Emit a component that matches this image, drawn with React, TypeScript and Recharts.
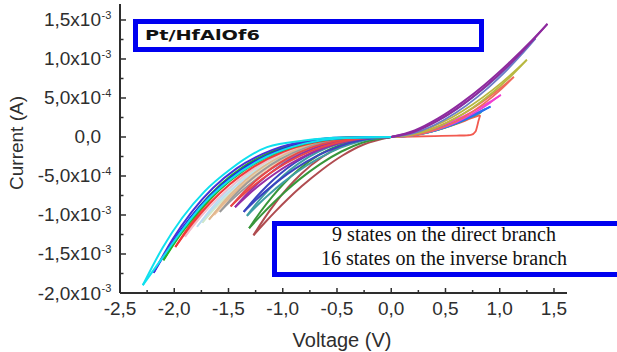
import React from 'react';
import { LineChart, Line, XAxis, YAxis } from 'recharts';

// Current values are in mA (units of 1e-3 A); voltage in V.
// Negative ("inverse") branch: 16 states, each as two arms [V, I(mA)] from the tip to the origin.
const N1_LOW = [[-2.29,-1.90],[-2.10,-1.53],[-1.92,-1.18],[-1.718,-0.84],[-1.489,-0.55],[-1.145,-0.25],[-0.802,-0.085],[-0.458,-0.015],[0,0]];
const N1_UP = [[-2.29,-1.90],[-2.107,-1.419],[-1.924,-1.032],[-1.718,-0.694],[-1.489,-0.420],[-1.145,-0.130],[-0.802,-0.045],[-0.458,-0.007],[0,0]];
const N2_LOW = [[-2.19,-1.74],[-2.015,-1.343],[-1.84,-1.013],[-1.643,-0.713],[-1.424,-0.458],[-1.095,-0.204],[-0.767,-0.068],[-0.438,-0.012],[0,0]];
const N2_UP = [[-2.19,-1.74],[-2.015,-1.310],[-1.84,-0.962],[-1.643,-0.654],[-1.424,-0.402],[-1.095,-0.165],[-0.767,-0.049],[-0.438,-0.007],[0,0]];
const N3_LOW = [[-2.10,-1.58],[-1.932,-1.231],[-1.764,-0.937],[-1.575,-0.667],[-1.365,-0.435],[-1.05,-0.198],[-0.735,-0.068],[-0.42,-0.013],[0,0]];
const N3_UP = [[-2.10,-1.58],[-1.932,-1.199],[-1.764,-0.888],[-1.575,-0.611],[-1.365,-0.381],[-1.05,-0.161],[-0.735,-0.049],[-0.42,-0.008],[0,0]];
const N4_LOW = [[-1.99,-1.41],[-1.831,-1.107],[-1.672,-0.850],[-1.493,-0.612],[-1.294,-0.405],[-0.995,-0.189],[-0.697,-0.068],[-0.398,-0.013],[0,0]];
const N4_UP = [[-1.99,-1.41],[-1.831,-1.080],[-1.672,-0.807],[-1.493,-0.561],[-1.294,-0.355],[-0.995,-0.154],[-0.697,-0.049],[-0.398,-0.008],[0,0]];
const N5_LOW = [[-1.90,-1.28],[-1.748,-1.014],[-1.596,-0.786],[-1.425,-0.572],[-1.235,-0.383],[-0.95,-0.184],[-0.665,-0.068],[-0.38,-0.014],[0,0]];
const N5_UP = [[-1.90,-1.28],[-1.748,-0.988],[-1.596,-0.745],[-1.425,-0.525],[-1.235,-0.337],[-0.95,-0.150],[-0.665,-0.050],[-0.38,-0.009],[0,0]];
const N6_LOW = [[-1.79,-1.15],[-1.647,-0.918],[-1.504,-0.718],[-1.343,-0.529],[-1.164,-0.359],[-0.895,-0.177],[-0.627,-0.068],[-0.358,-0.015],[0,0]];
const N6_UP = [[-1.79,-1.15],[-1.647,-0.896],[-1.504,-0.682],[-1.343,-0.485],[-1.164,-0.316],[-0.895,-0.144],[-0.627,-0.049],[-0.358,-0.009],[0,0]];
const N7_LOW = [[-1.74,-1.10],[-1.601,-0.882],[-1.462,-0.693],[-1.305,-0.513],[-1.131,-0.351],[-0.87,-0.175],[-0.609,-0.068],[-0.348,-0.015],[0,0]];
const N7_UP = [[-1.74,-1.10],[-1.601,-0.860],[-1.462,-0.658],[-1.305,-0.471],[-1.131,-0.309],[-0.87,-0.142],[-0.609,-0.050],[-0.348,-0.010],[0,0]];
const N8_LOW = [[-1.68,-1.06],[-1.546,-0.853],[-1.411,-0.674],[-1.26,-0.501],[-1.092,-0.346],[-0.84,-0.175],[-0.588,-0.069],[-0.336,-0.016],[0,0]];
const N8_UP = [[-1.68,-1.06],[-1.546,-0.832],[-1.411,-0.639],[-1.26,-0.460],[-1.092,-0.304],[-0.84,-0.142],[-0.588,-0.051],[-0.336,-0.010],[0,0]];
const N9_LOW = [[-1.63,-1.00],[-1.50,-0.812],[-1.369,-0.647],[-1.223,-0.487],[-1.06,-0.341],[-0.815,-0.177],[-0.571,-0.072],[-0.326,-0.018],[0,0]];
const N9_UP = [[-1.63,-1.00],[-1.50,-0.788],[-1.369,-0.608],[-1.223,-0.440],[-1.06,-0.293],[-0.815,-0.139],[-0.571,-0.050],[-0.326,-0.010],[0,0]];
const N10_LOW = [[-1.58,-0.96],[-1.454,-0.786],[-1.327,-0.632],[-1.185,-0.481],[-1.027,-0.342],[-0.79,-0.181],[-0.553,-0.077],[-0.316,-0.020],[0,0]];
const N10_UP = [[-1.58,-0.96],[-1.454,-0.760],[-1.327,-0.589],[-1.185,-0.429],[-1.027,-0.287],[-0.79,-0.138],[-0.553,-0.051],[-0.316,-0.011],[0,0]];
const N11_LOW = [[-1.48,-0.89],[-1.362,-0.734],[-1.243,-0.596],[-1.11,-0.459],[-0.962,-0.330],[-0.74,-0.181],[-0.518,-0.079],[-0.296,-0.022],[0,0]];
const N11_UP = [[-1.48,-0.89],[-1.362,-0.710],[-1.243,-0.555],[-1.11,-0.409],[-0.962,-0.278],[-0.74,-0.137],[-0.518,-0.053],[-0.296,-0.012],[0,0]];
const N12_LOW = [[-1.44,-0.90],[-1.325,-0.749],[-1.21,-0.613],[-1.08,-0.478],[-0.936,-0.349],[-0.72,-0.196],[-0.504,-0.089],[-0.288,-0.026],[0,0]];
const N12_UP = [[-1.44,-0.90],[-1.325,-0.725],[-1.21,-0.572],[-1.08,-0.426],[-0.936,-0.293],[-0.72,-0.149],[-0.504,-0.059],[-0.288,-0.014],[0,0]];
const N13_LOW = [[-1.36,-0.96],[-1.251,-0.812],[-1.142,-0.678],[-1.02,-0.540],[-0.884,-0.406],[-0.68,-0.240],[-0.476,-0.118],[-0.272,-0.038],[0,0]];
const N13_UP = [[-1.36,-0.96],[-1.251,-0.780],[-1.142,-0.621],[-1.02,-0.468],[-0.884,-0.327],[-0.68,-0.170],[-0.476,-0.069],[-0.272,-0.017],[0,0]];
const N14_LOW = [[-1.33,-1.01],[-1.224,-0.862],[-1.117,-0.725],[-0.998,-0.585],[-0.865,-0.445],[-0.665,-0.271],[-0.466,-0.137],[-0.266,-0.047],[0,0]];
const N14_UP = [[-1.33,-1.01],[-1.224,-0.823],[-1.117,-0.659],[-0.998,-0.499],[-0.865,-0.351],[-0.665,-0.185],[-0.466,-0.077],[-0.266,-0.019],[0,0]];
const N15_LOW = [[-1.31,-1.17],[-1.205,-1.011],[-1.10,-0.862],[-0.983,-0.708],[-0.852,-0.550],[-0.655,-0.347],[-0.459,-0.186],[-0.262,-0.070],[0,0]];
const N15_UP = [[-1.31,-1.17],[-1.205,-0.958],[-1.10,-0.770],[-0.983,-0.586],[-0.852,-0.417],[-0.655,-0.221],[-0.459,-0.094],[-0.262,-0.025],[0,0]];
const N16_LOW = [[-1.27,-1.26],[-1.168,-1.103],[-1.067,-0.954],[-0.953,-0.795],[-0.826,-0.633],[-0.635,-0.416],[-0.445,-0.234],[-0.254,-0.096],[0,0]];
const N16_UP = [[-1.27,-1.26],[-1.168,-1.040],[-1.067,-0.844],[-0.953,-0.650],[-0.826,-0.467],[-0.635,-0.256],[-0.445,-0.112],[-0.254,-0.032],[0,0]];

// Positive ("direct") branch: 9 states, from the origin to the tip.
const P1_UP = [[0,0],[0.216,0.084],[0.432,0.238],[0.648,0.438],[0.864,0.674],[1.08,0.943],[1.296,1.238],[1.44,1.45]];
const P1_LOW = [[0,0],[0.216,0.070],[0.432,0.212],[0.648,0.405],[0.864,0.641],[1.08,0.915],[1.296,1.225],[1.44,1.45]];
const P2_UP = [[0,0],[0.20,0.061],[0.399,0.185],[0.599,0.353],[0.798,0.559],[0.998,0.798],[1.197,1.069],[1.33,1.265]];
const P2_LOW = [[0,0],[0.20,0.046],[0.399,0.154],[0.599,0.313],[0.798,0.518],[0.998,0.765],[1.197,1.052],[1.33,1.265]];
const P3_UP = [[0,0],[0.1875,0.040],[0.375,0.128],[0.5625,0.254],[0.75,0.416],[0.9375,0.607],[1.125,0.828],[1.25,0.99]];
const P3_LOW = [[0,0],[0.1875,0.027],[0.375,0.100],[0.5625,0.217],[0.75,0.375],[0.9375,0.573],[1.125,0.810],[1.25,0.99]];
const P4_UP = [[0,0],[0.1695,0.025],[0.339,0.089],[0.5085,0.183],[0.678,0.307],[0.8475,0.459],[1.017,0.637],[1.13,0.77]];
const P4_LOW = [[0,0],[0.1695,0.015],[0.339,0.062],[0.5085,0.144],[0.678,0.263],[0.8475,0.421],[1.017,0.617],[1.13,0.77]];
const P5_UP = [[0,0],[0.1515,0.022],[0.303,0.070],[0.4545,0.139],[0.606,0.227],[0.7575,0.331],[0.909,0.451],[1.01,0.54]];
const P5_LOW = [[0,0],[0.1515,0.012],[0.303,0.049],[0.4545,0.109],[0.606,0.194],[0.7575,0.304],[0.909,0.437],[1.01,0.54]];
const P6_UP = [[0,0],[0.137,0.019],[0.2745,0.057],[0.412,0.109],[0.549,0.172],[0.686,0.246],[0.8235,0.330],[0.915,0.39]];
const P6_LOW = [[0,0],[0.137,0.011],[0.2745,0.039],[0.412,0.085],[0.549,0.148],[0.686,0.226],[0.8235,0.319],[0.915,0.39]];
const P7_UP = [[0,0],[0.1305,0.017],[0.261,0.053],[0.3915,0.100],[0.522,0.159],[0.6525,0.227],[0.783,0.304],[0.87,0.36]];
const P7_LOW = [[0,0],[0.1305,0.010],[0.261,0.036],[0.3915,0.079],[0.522,0.136],[0.6525,0.208],[0.783,0.294],[0.87,0.36]];
const P8_UP = [[0,0],[0.1245,0.015],[0.249,0.047],[0.3735,0.089],[0.498,0.141],[0.6225,0.202],[0.747,0.270],[0.83,0.32]];
const P8_LOW = [[0,0],[0.1245,0.009],[0.249,0.032],[0.3735,0.070],[0.498,0.121],[0.6225,0.185],[0.747,0.262],[0.83,0.32]];
const P9_FWD = [[0,0],[0.2,0.006],[0.4,0.012],[0.6,0.018],[0.70,0.022],[0.735,0.026],[0.777,0.07],[0.807,0.22],[0.82,0.28]];
const P9_RET = [[0,0],[0.123,0.010],[0.246,0.033],[0.369,0.069],[0.492,0.116],[0.615,0.173],[0.738,0.240],[0.82,0.28]];

// Axis ticks and labels
const X_TICKS = [-2.5,-2.25,-2,-1.75,-1.5,-1.25,-1,-0.75,-0.5,-0.25,0,0.25,0.5,0.75,1,1.25,1.5];
const X_MAJOR = [-2.5,-2,-1.5,-1,-0.5,0,0.5,1,1.5];
const X_LABELS = ['-2,5','-2,0','-1,5','-1,0','-0,5','0,0','0,5','1,0','1,5'];
const Y_TICKS = [-2,-1.75,-1.5,-1.25,-1,-0.75,-0.5,-0.25,0,0.25,0.5,0.75,1,1.25,1.5];
const Y_MAJOR = [1.5,1,0.5,0,-0.5,-1,-1.5,-2];
const Y_MANTISSA = ['1,5x10','1,0x10','5,0x10','0,0','-5,0x10','-1,0x10','-1,5x10','-2,0x10'];
const Y_EXPONENT = ['-3','-3','-4','','-4','-3','-3','-3'];

// Series table: [data, colour, width]; drawn in this order
const SERIES: [number[][], string, number][] = [
  [N9_LOW,'#f7d2b4',1.6],[N9_UP,'#f7d2b4',1.6],
  [N7_LOW,'#cfe8c8',1.6],[N7_UP,'#cfe8c8',1.6],
  [N6_LOW,'#b9dcf2',1.6],[N6_UP,'#b9dcf2',1.6],
  [N5_LOW,'#f4bccb',1.6],[N5_UP,'#f4bccb',1.6],
  [N8_LOW,'#e2b88e',1.8],[N8_UP,'#e2b88e',1.8],
  [N10_LOW,'#9a9a9a',1.8],[N10_UP,'#9a9a9a',1.8],
  [N16_LOW,'#b04c50',2],[N16_UP,'#b04c50',2],
  [N15_LOW,'#38963a',2],[N15_UP,'#38963a',2],
  [N14_LOW,'#3f9ea4',2],[N14_UP,'#3f9ea4',2],
  [N13_LOW,'#3a44c0',2],[N13_UP,'#3a44c0',2],
  [N12_LOW,'#962ea6',2],[N12_UP,'#962ea6',2],
  [N11_LOW,'#e84848',2],[N11_UP,'#e84848',2],
  [N4_LOW,'#f03a3a',2],[N4_UP,'#f03a3a',2],
  [N3_LOW,'#24b424',2],[N3_UP,'#24b424',2],
  [N2_LOW,'#2222e6',2],[N2_UP,'#4a30d8',2],
  [N1_LOW,'#10e0ee',2],[N1_UP,'#10e0ee',2],
  [P9_FWD,'#f25a50',1.8],[P9_RET,'#f25a50',1.8],
  [P8_LOW,'#40c040',1.8],[P8_UP,'#40c040',1.8],
  [P7_LOW,'#20d0e0',1.8],[P7_UP,'#20d0e0',1.8],
  [P6_LOW,'#2a70f0',1.8],[P6_UP,'#2a70f0',1.8],
  [P5_LOW,'#f040d0',1.8],[P5_UP,'#f040d0',1.8],
  [P4_LOW,'#f06a5a',1.8],[P4_UP,'#f06a5a',1.8],
  [P3_LOW,'#b8b840',1.8],[P3_UP,'#b8b840',1.8],
  [P2_LOW,'#6a7cc8',1.8],[P2_UP,'#6a7cc8',1.8],
  [P1_LOW,'#8e2a9e',2],[P1_UP,'#8e2a9e',2],
];

const SANS = "'Liberation Sans', Arial, sans-serif";
const INK = '#2e2e2e';

const idxOf = (arr: number[], v: number) => arr.findIndex((m) => Math.abs(m - v) < 1e-6);

const BottomTick = (p: any) => {
  const i = idxOf(X_MAJOR, p.payload.value);
  const major = i >= 0;
  return (
    <g>
      <line x1={p.x} x2={p.x} y1={p.y} y2={p.y - (major ? 5 : 3)} stroke={INK} strokeWidth={1.5} />
      {major && (
        <text x={p.x} y={p.y + 22} textAnchor="middle" fontSize={19} fontFamily={SANS} fill={INK}>{X_LABELS[i]}</text>
      )}
    </g>
  );
};

const TopTick = (p: any) => {
  const major = idxOf(X_MAJOR, p.payload.value) >= 0;
  return <line x1={p.x} x2={p.x} y1={p.y} y2={p.y + (major ? 5 : 3)} stroke={INK} strokeWidth={1.5} />;
};

const LeftTick = (p: any) => {
  const i = idxOf(Y_MAJOR, p.payload.value);
  const major = i >= 0;
  return (
    <g>
      <line x1={p.x} x2={p.x + (major ? 6 : 3.5)} y1={p.y} y2={p.y} stroke={INK} strokeWidth={1.5} />
      {major && (
        <text x={p.x - 19} y={p.y + 6.5} textAnchor="end" fontSize={19} fontFamily={SANS} fill={INK}>{Y_MANTISSA[i]}</text>
      )}
      {major && Y_EXPONENT[i] && (
        <text x={p.x - 18.5} y={p.y - 1} textAnchor="start" fontSize={11} fontFamily={SANS} fill={INK}>{Y_EXPONENT[i]}</text>
      )}
    </g>
  );
};

const RightTick = (p: any) => {
  const major = idxOf(Y_MAJOR, p.payload.value) >= 0;
  return <line x1={p.x} x2={p.x - (major ? 6 : 3.5)} y1={p.y} y2={p.y} stroke={INK} strokeWidth={1.5} />;
};

const XTitle = () => (
  <text x={342} y={347} textAnchor="middle" fontSize={20} fontFamily={SANS} fill={INK}>Voltage (V)</text>
);
const YTitle = () => (
  <text x={23} y={143} transform="rotate(-90 23 143)" textAnchor="middle" fontSize={19} fontFamily={SANS} fill={INK}>Current (A)</text>
);

const X_DOMAIN: [number, number] = [-2.5, 1.62];
const Y_DOMAIN: [number, number] = [-2, 1.705];
const AXIS_LINE = { stroke: INK, strokeWidth: 2 };

export default function App() {
  return (
    <div style={{ position: 'absolute', left: 0, top: 0, width: 617, height: 352, background: '#fff', overflow: 'hidden' }}>
      <LineChart width={617} height={352} margin={{ top: 4, right: 50, bottom: 29, left: 0 }}>
        <XAxis dataKey="v" type="number" domain={X_DOMAIN} allowDataOverflow ticks={X_TICKS} interval={0}
          tickSize={0} tickMargin={0} tickLine={false} axisLine={AXIS_LINE} tick={BottomTick} height={30} label={<XTitle />} />
        <XAxis xAxisId="top" orientation="top" dataKey="v" type="number" domain={X_DOMAIN} allowDataOverflow ticks={X_TICKS} interval={0}
          tickSize={0} tickMargin={0} tickLine={false} axisLine={AXIS_LINE} tick={TopTick} height={0} />
        <YAxis dataKey="i" type="number" domain={Y_DOMAIN} allowDataOverflow ticks={Y_TICKS} interval={0}
          tickSize={0} tickMargin={0} tickLine={false} axisLine={AXIS_LINE} tick={LeftTick} width={120} label={<YTitle />} />
        <YAxis yAxisId="right" orientation="right" dataKey="i" type="number" domain={Y_DOMAIN} allowDataOverflow ticks={Y_TICKS} interval={0}
          tickSize={0} tickMargin={0} tickLine={false} axisLine={AXIS_LINE} tick={RightTick} width={0} />
        {SERIES.map(([pts, color, w], k) => (
          <Line key={k} data={pts.map(([v, i]) => ({ v, i }))} dataKey="i" type="monotone" stroke={color}
            strokeWidth={w} dot={false} activeDot={false} isAnimationActive={false} legendType="none" />
        ))}
      </LineChart>
      <div style={{ position: 'absolute', left: 133, top: 19, width: 351, height: 33, boxSizing: 'border-box',
        border: '5px solid #0000f0', background: '#fff' }}>
        <span style={{ position: 'absolute', left: 7, top: 2, display: 'inline-block', transformOrigin: 'left center', transform: 'scaleX(1.38)',
          fontFamily: "'DejaVu Sans', sans-serif", fontWeight: 'bold', fontSize: 14, lineHeight: '19px', color: '#111' }}>Pt/HfAlOf6</span>
      </div>
      <div style={{ position: 'absolute', left: 272, top: 221, width: 360, height: 56, boxSizing: 'border-box',
        border: '5px solid #0000f0', background: '#fff' }}>
        <div style={{ position: 'absolute', left: 0, width: 334, top: -4, textAlign: 'center', fontFamily: "'Liberation Serif', 'Times New Roman', serif",
          fontSize: 20, lineHeight: '24px', color: '#111' }}>
          <div>9 states on the direct branch</div>
          <div>16 states on the inverse branch</div>
        </div>
      </div>
    </div>
  );
}
